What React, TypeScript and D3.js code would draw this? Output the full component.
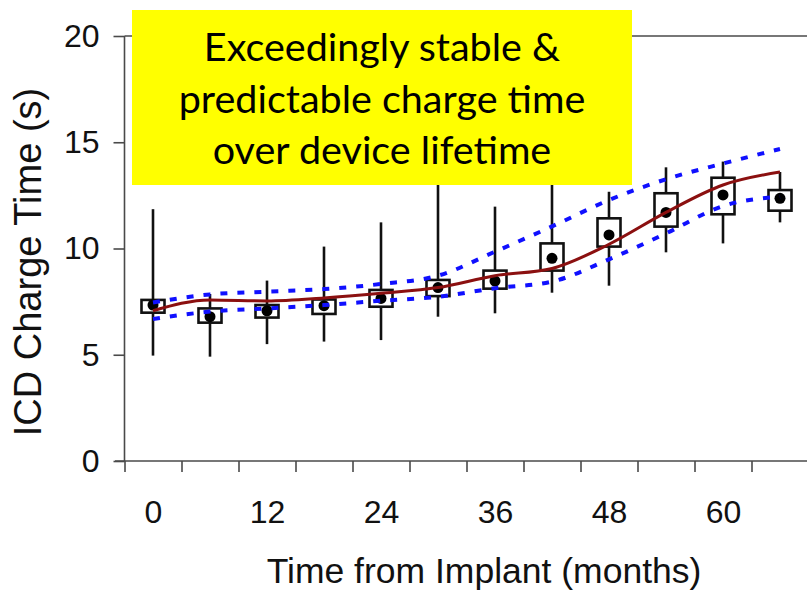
import { useRef, useEffect } from "react";
import * as d3 from "d3";

// months from implant
const months = [0, 6, 12, 18, 24, 30, 36, 42, 48, 54, 60, 66];
const whiskerLow = [4.96, 4.91, 5.5, 5.62, 5.69, 6.79, 6.95, 7.92, 8.25, 9.82, 10.24, 11.23];
const whiskerHigh = [11.85, 7.86, 8.49, 10.09, 11.23, 16.0, 11.97, 14.5, 12.67, 13.82, 14.09, 13.6];
const boxLow = [6.98, 6.51, 6.75, 6.92, 7.26, 7.76, 8.11, 8.96, 10.09, 11.03, 11.61, 11.78];
const boxHigh = [7.58, 7.18, 7.34, 7.6, 8.05, 8.52, 8.96, 10.24, 11.42, 12.6, 13.33, 12.75];
const means = [7.34, 6.79, 7.07, 7.31, 7.65, 8.16, 8.47, 9.54, 10.64, 11.7, 12.52, 12.36];
const fitLine = [7.07, 7.58, 7.53, 7.67, 7.89, 8.16, 8.72, 9.06, 10.2, 11.7, 12.99, 13.6];
const upperBand = [7.46, 7.84, 7.97, 8.09, 8.33, 8.72, 9.85, 11.04, 12.28, 13.26, 14.0, 14.68];
const lowerBand = [6.68, 7.03, 7.18, 7.34, 7.54, 7.73, 8.13, 8.44, 9.49, 10.71, 12.0, 12.44];

const yTicks = [0, 5, 10, 15, 20];
const xLabels = [0, 12, 24, 36, 48, 60];
const xMinorTicks = [-3, 3, 9, 15, 21, 27, 33, 39, 45, 51, 57, 63];
const calloutLines = ["Exceedingly stable &", "predictable charge time", "over device lifetime"];

const W = 807;
const H = 590;

export default function App() {
    const svgRef = useRef<SVGSVGElement>(null);

    useEffect(() => {
        const x = d3.scaleLinear().domain([0, 60]).range([153, 723]);
        const y = d3.scaleLinear().domain([0, 20]).range([461, 36]);

        const svg = d3.select(svgRef.current).html(null);
        const axisColor = "#4a4a4a";
        const left = x(-3);

        // frame lines
        svg.append("line")
            .attr("x1", 115).attr("x2", W)
            .attr("y1", y(0)).attr("y2", y(0))
            .attr("stroke", axisColor).attr("stroke-width", 1.6);
        svg.append("line")
            .attr("x1", left).attr("x2", W)
            .attr("y1", y(20)).attr("y2", y(20))
            .attr("stroke", axisColor).attr("stroke-width", 1.6);
        svg.append("line")
            .attr("x1", left).attr("x2", left)
            .attr("y1", y(20)).attr("y2", y(0))
            .attr("stroke", axisColor).attr("stroke-width", 1.6);

        // y axis
        const yAxis = svg.append("g")
            .attr("transform", `translate(${left},0)`)
            .call(d3.axisLeft(y).tickValues(yTicks).tickSize(11).tickPadding(14));
        yAxis.select(".domain").remove();
        yAxis.selectAll(".tick line").attr("stroke", axisColor).attr("stroke-width", 1.6);
        yAxis.selectAll(".tick text")
            .attr("fill", "#111")
            .style("font-family", "'Liberation Sans', Arial, sans-serif")
            .style("font-size", "32px");

        // x axis minor ticks
        const xTickG = svg.append("g")
            .attr("transform", `translate(0,${y(0)})`)
            .call(d3.axisBottom(x).tickValues(xMinorTicks).tickSize(11).tickFormat(() => ""));
        xTickG.select(".domain").remove();
        xTickG.selectAll(".tick line").attr("stroke", axisColor).attr("stroke-width", 1.6);

        // x axis labels
        const xLabG = svg.append("g")
            .attr("transform", `translate(0,${y(0)})`)
            .call(d3.axisBottom(x).tickValues(xLabels).tickSize(0).tickPadding(39));
        xLabG.select(".domain").remove();
        xLabG.selectAll(".tick text")
            .attr("fill", "#111")
            .style("font-family", "'Liberation Sans', Arial, sans-serif")
            .style("font-size", "32px");

        // axis titles
        svg.append("text")
            .attr("x", 484)
            .attr("y", 583)
            .attr("text-anchor", "middle")
            .attr("fill", "#111")
            .style("font-family", "'Liberation Sans', Arial, sans-serif")
            .style("font-size", "35.5px")
            .text("Time from Implant (months)");
        svg.append("text")
            .attr("transform", `translate(41,262) rotate(-90)`)
            .attr("text-anchor", "middle")
            .attr("fill", "#111")
            .style("font-family", "'Liberation Sans', Arial, sans-serif")
            .style("font-size", "38px")
            .text("ICD Charge Time (s)");

        const boxW = 23;

        // whiskers
        svg.append("g").selectAll("line")
            .data(months)
            .join("line")
            .attr("x1", d => x(d)).attr("x2", d => x(d))
            .attr("y1", (d, i) => y(whiskerLow[i]))
            .attr("y2", (d, i) => y(whiskerHigh[i]))
            .attr("stroke", "#111").attr("stroke-width", 2.6);

        // boxes
        svg.append("g").selectAll("rect")
            .data(months)
            .join("rect")
            .attr("x", d => x(d) - boxW / 2)
            .attr("width", boxW)
            .attr("y", (d, i) => y(boxHigh[i]))
            .attr("height", (d, i) => y(boxLow[i]) - y(boxHigh[i]))
            .attr("fill", "white")
            .attr("stroke", "#111").attr("stroke-width", 2.6);

        // means
        svg.append("g").selectAll("circle")
            .data(months)
            .join("circle")
            .attr("cx", d => x(d))
            .attr("cy", (d, i) => y(means[i]))
            .attr("r", 5.5)
            .attr("fill", "#000");

        // bands
        const bandLine = (vals: number[]) =>
            d3.line<number>()
                .x(d => x(d))
                .y((d, i) => y(vals[i]))
                .curve(d3.curveMonotoneX)(months);

        [upperBand, lowerBand].forEach(vals => {
            svg.append("path")
                .attr("d", bandLine(vals))
                .attr("fill", "none")
                .attr("stroke", "#1010ff")
                .attr("stroke-width", 4)
                .attr("stroke-dasharray", "7,10");
        });

        // fitted line
        svg.append("path")
            .attr("d", bandLine(fitLine))
            .attr("fill", "none")
            .attr("stroke", "#8b1010")
            .attr("stroke-width", 3);

        // callout
        svg.append("rect")
            .attr("x", 132).attr("y", 10)
            .attr("width", 500).attr("height", 175)
            .attr("fill", "#ffff00");
        svg.append("g").selectAll("text")
            .data(calloutLines)
            .join("text")
            .attr("x", 382)
            .attr("y", (d, i) => 61 + i * 51.5)
            .attr("text-anchor", "middle")
            .attr("fill", "#000")
            .style("font-family", "Lato, 'Open Sans', sans-serif")
            .style("font-size", "39.5px")
            .text(d => d);
    }, []);

    return (
        <svg ref={svgRef} width={W} height={H}
            style={{ position: "absolute", left: 0, top: 0, background: "white" }} />
    );
}
